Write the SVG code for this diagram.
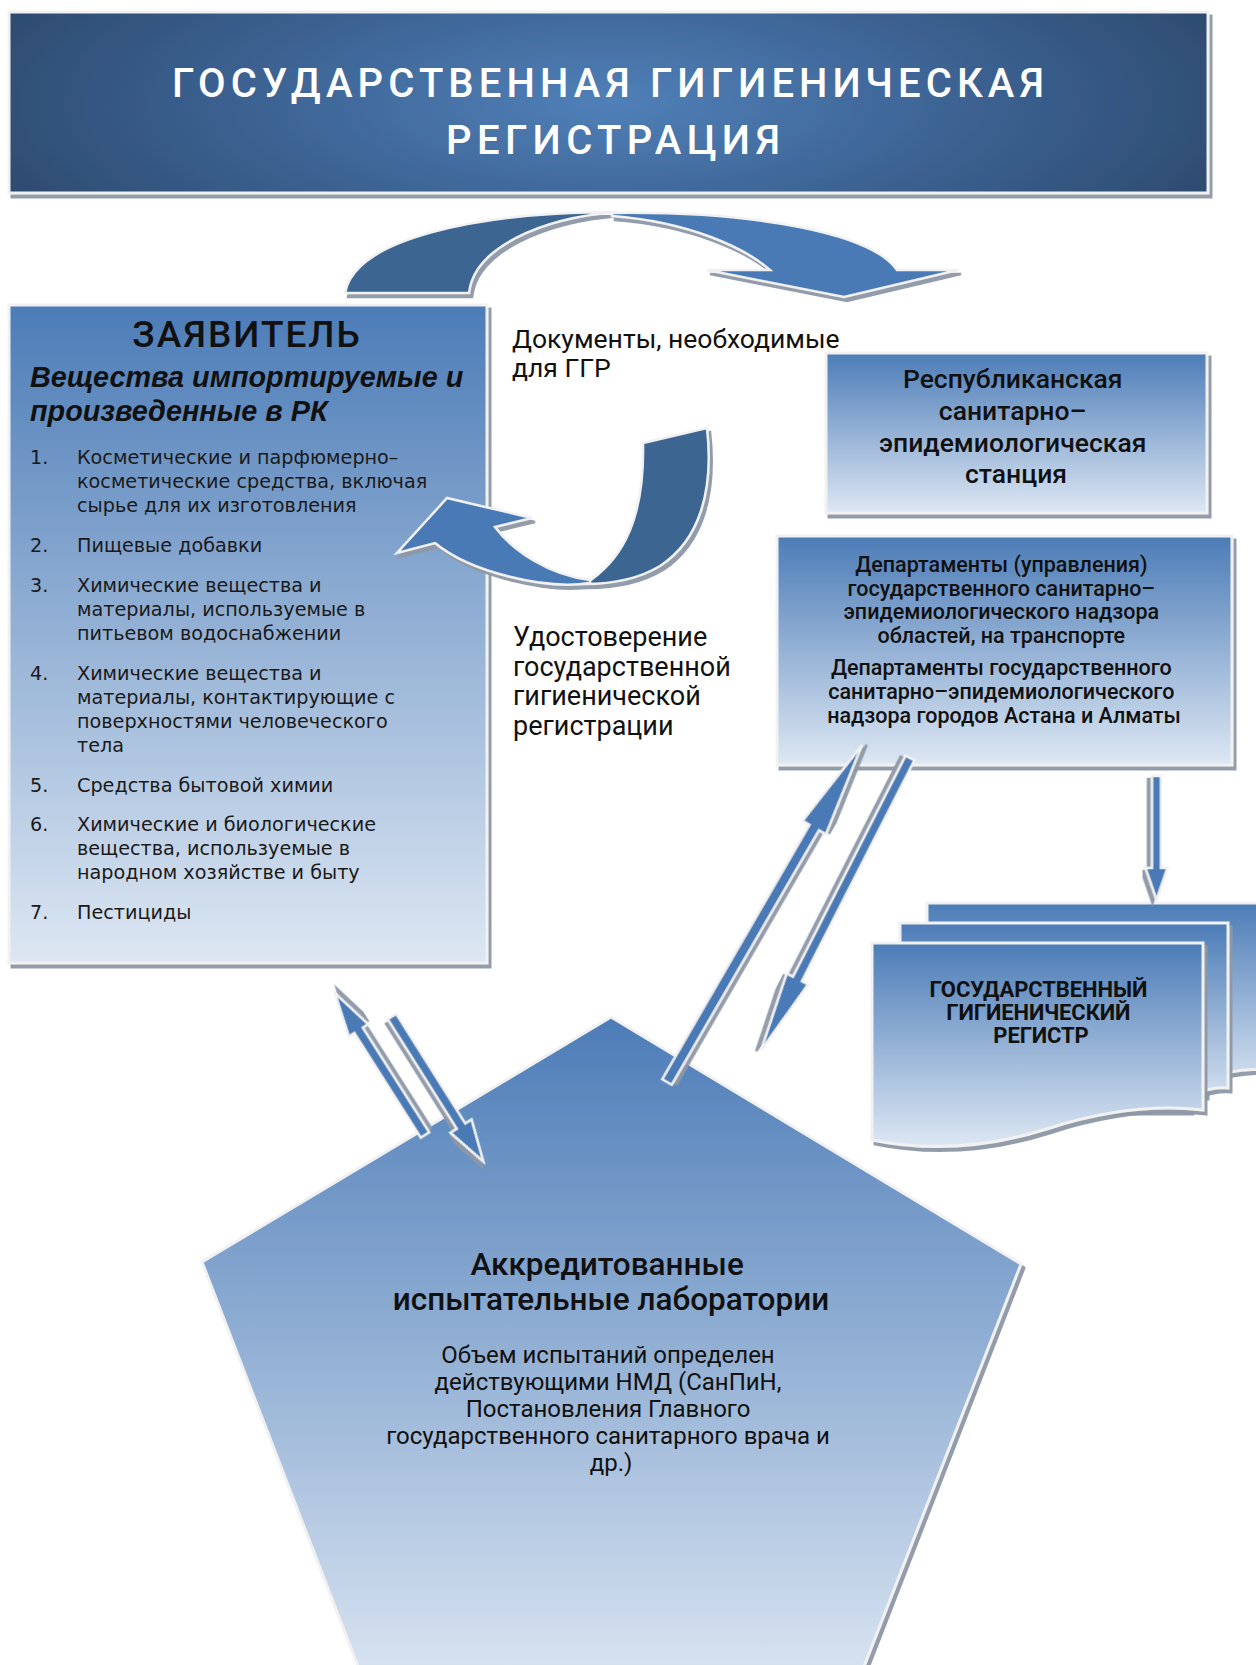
<svg xmlns="http://www.w3.org/2000/svg" width="1256" height="1665" viewBox="0 0 1256 1665">
<defs>
  <linearGradient id="gBox" x1="0" y1="0" x2="0" y2="1">
    <stop offset="0" stop-color="#4c7cb7"/>
    <stop offset="1" stop-color="#dde7f3"/>
  </linearGradient>
  <linearGradient id="gPent" x1="0" y1="0" x2="0" y2="1">
    <stop offset="0" stop-color="#4c7cb7"/>
    <stop offset="1" stop-color="#dde7f3"/>
  </linearGradient>
  <radialGradient id="gTitle" cx="0.5" cy="0.5" r="0.55" gradientTransform="translate(0.5 0.5) scale(1 2.2) translate(-0.5 -0.5)">
    <stop offset="0" stop-color="#5080b8"/>
    <stop offset="0.55" stop-color="#3c6292"/>
    <stop offset="1" stop-color="#2e4b70"/>
  </radialGradient>
  <filter id="sh" x="-5%" y="-5%" width="115%" height="115%">
    <feDropShadow dx="3" dy="4" stdDeviation="0.7" flood-color="#8d97a6" flood-opacity="0.95"/>
  </filter>
  <style>
    .box{stroke:#f1f1f1;stroke-width:3;filter:url(#sh)}
    .arw{fill:#4a7ab5;stroke:#f1f1f1;stroke-width:2.5;filter:url(#sh)}
    .dark{fill:#3d6591;stroke:#f1f1f1;stroke-width:2.5}
    .light{fill:#4a7ab5;stroke:#f1f1f1;stroke-width:2.5}
    .t{font-family:Roboto,"Liberation Sans",sans-serif;fill:#111}
    .lst{font-family:"DejaVu Sans",Verdana,sans-serif;font-size:19.2px;fill:#1a1a1a}
  </style>
</defs>

<g id="title">
  <rect class="box" x="9" y="12" width="1199" height="181" fill="url(#gTitle)"/>
  <text x="608" y="97" text-anchor="middle" font-family="Roboto,'Liberation Sans',Arial,sans-serif" font-weight="500" font-size="40" fill="#fff" textLength="872" lengthAdjust="spacing">ГОСУДАРСТВЕННАЯ ГИГИЕНИЧЕСКАЯ</text>
  <text x="613" y="154" text-anchor="middle" font-family="Roboto,'Liberation Sans',Arial,sans-serif" font-weight="500" font-size="40" fill="#fff" textLength="334" lengthAdjust="spacing">РЕГИСТРАЦИЯ</text>
</g>

<g id="applicant">
  <rect class="box" x="9" y="305" width="478" height="658" fill="url(#gBox)"/>
  <text class="t" x="247" y="347" text-anchor="middle" font-size="37" font-weight="500" letter-spacing="2">ЗАЯВИТЕЛЬ</text>
  <text font-family="'Liberation Sans',Arial,sans-serif" font-weight="bold" font-style="italic" font-size="28.8" fill="#111">
    <tspan x="30" y="387">Вещества импортируемые и</tspan>
    <tspan x="30" y="421">произведенные в РК</tspan>
  </text>
  <text class="lst">
    <tspan x="30" y="464">1.</tspan><tspan x="77" y="464">Косметические и парфюмерно–</tspan>
    <tspan x="77" y="488">косметические средства, включая</tspan>
    <tspan x="77" y="512">сырье для их изготовления</tspan>
    <tspan x="30" y="552">2.</tspan><tspan x="77" y="552">Пищевые добавки</tspan>
    <tspan x="30" y="592">3.</tspan><tspan x="77" y="592">Химические вещества и</tspan>
    <tspan x="77" y="616">материалы, используемые в</tspan>
    <tspan x="77" y="640">питьевом водоснабжении</tspan>
    <tspan x="30" y="680">4.</tspan><tspan x="77" y="680">Химические вещества и</tspan>
    <tspan x="77" y="704">материалы, контактирующие с</tspan>
    <tspan x="77" y="728">поверхностями человеческого</tspan>
    <tspan x="77" y="752">тела</tspan>
    <tspan x="30" y="792">5.</tspan><tspan x="77" y="792">Средства бытовой химии</tspan>
    <tspan x="30" y="831">6.</tspan><tspan x="77" y="831">Химические и биологические</tspan>
    <tspan x="77" y="855">вещества, используемые в</tspan>
    <tspan x="77" y="879">народном хозяйстве и быту</tspan>
    <tspan x="30" y="919">7.</tspan><tspan x="77" y="919">Пестициды</tspan>
  </text>
</g>

<g id="republican">
  <rect class="box" x="826" y="353" width="381" height="160" fill="url(#gBox)"/>
  <text class="t" text-anchor="middle" font-size="26.5" font-weight="500">
    <tspan x="1016" y="388">Республиканская</tspan>
    <tspan x="1016" y="420">санитарно–</tspan>
    <tspan x="1016" y="452">эпидемиологическая</tspan>
    <tspan x="1016" y="483">станция</tspan>
  </text>
</g>

<g id="departments">
  <rect class="box" x="777" y="536" width="455" height="229" fill="url(#gBox)"/>
  <text class="t" text-anchor="middle" font-size="21.5" font-weight="500">
    <tspan x="1004" y="572">Департаменты (управления)</tspan>
    <tspan x="1004" y="596">государственного санитарно–</tspan>
    <tspan x="1004" y="619">эпидемиологического надзора</tspan>
    <tspan x="1004" y="643">областей, на транспорте</tspan>
    <tspan x="1004" y="675">Департаменты государственного</tspan>
    <tspan x="1004" y="699">санитарно–эпидемиологического</tspan>
    <tspan x="1004" y="723">надзора городов Астана и Алматы</tspan>
  </text>
</g>

<g id="register">
  <path class="box" fill="url(#gBox)" d="M927,903 H1262 V1070 C1245,1068 1225,1072 1205,1080 V1095 H927 Z"/>
  <path class="box" fill="url(#gBox)" d="M900,923 H1228 V1088 C1215,1087 1205,1090 1190,1095 V1110 H900 Z"/>
  <path class="box" fill="url(#gBox)" d="M872,943 H1203 V1110 C1150,1104 1100,1112 1050,1128 C1000,1144 940,1154 872,1140 Z"/>
  <text class="t" text-anchor="middle" font-size="22" font-weight="700" letter-spacing="-0.1">
    <tspan x="1041" y="997">ГОСУДАРСТВЕННЫЙ</tspan>
    <tspan x="1041" y="1020">ГИГИЕНИЧЕСКИЙ</tspan>
    <tspan x="1041" y="1043">РЕГИСТР</tspan>
  </text>
</g>

<g id="labs">
  <polygon class="box" fill="url(#gPent)" points="611,1017 1021,1264 851,1700 371,1700 202,1262"/>
  <text class="t" text-anchor="middle" font-size="31.5" font-weight="500">
    <tspan x="611" y="1275">Аккредитованные</tspan>
    <tspan x="611" y="1310">испытательные лаборатории</tspan>
  </text>
  <text class="t" text-anchor="middle" font-size="24">
    <tspan x="611" y="1363">Объем испытаний определен</tspan>
    <tspan x="611" y="1390">действующими НМД (СанПиН,</tspan>
    <tspan x="611" y="1417">Постановления Главного</tspan>
    <tspan x="611" y="1444">государственного санитарного врача и</tspan>
    <tspan x="611" y="1471">др.)</tspan>
  </text>
</g>

<g id="labels">
  <text class="t" font-size="26.5">
    <tspan x="512" y="348">Документы, необходимые</tspan>
    <tspan x="512" y="377">для ГГР</tspan>
  </text>
  <text class="t" font-size="27">
    <tspan x="513" y="646">Удостоверение</tspan>
    <tspan x="513" y="676">государственной</tspan>
    <tspan x="513" y="705">гигиенической</tspan>
    <tspan x="513" y="735">регистрации</tspan>
  </text>
</g>

<g id="connectors">
  <g filter="url(#sh)">
    <path class="dark" d="M345,293 C355,238 480,212 617,212 C540,218 474,248 469,293 Z"/>
    <path class="light" d="M612,213 C760,211 872,234 897,270 L958,270 L844,297 L707,270 L770,270 C745,248 690,222 612,216 Z"/>
  </g>
  <g filter="url(#sh)">
    <path class="dark" d="M643,443 L707,428 C714,490 700,540 660,566 C640,578 615,584 585,584 C615,565 645,530 643,443 Z"/>
    <path class="light" d="M590,583 C545,590 470,572 435,543 L397,553 L447,498 L532,518 L495,527 C512,550 548,575 590,580 Z"/>
  </g>
  <path class="arw" transform="translate(425,1135) rotate(-122.4)" d="M0,-5 H124 V-11.5 L168,0 L124,11.5 V5 H0 Z"/>
  <path class="arw" transform="translate(392,1016.5) rotate(57.8)" d="M0,-5 H129.5 V-12.5 L171.5,0 L129.5,12.5 V5 H0 Z"/>
  <path class="arw" transform="translate(667,1082) rotate(-59.94)" d="M0,-5.5 H294 V-13.5 L389,0 L294,13.5 V5.5 H0 Z"/>
  <path class="arw" transform="translate(910,758) rotate(117)" d="M0,-5 H248 V-12 L328,0 L248,12 V5 H0 Z"/>
  <path class="arw" transform="translate(1156.5,776) rotate(90)" d="M0,-4.5 H92 V-11 L124,0 L92,11 V4.5 H0 Z"/>
</g>
</svg>
